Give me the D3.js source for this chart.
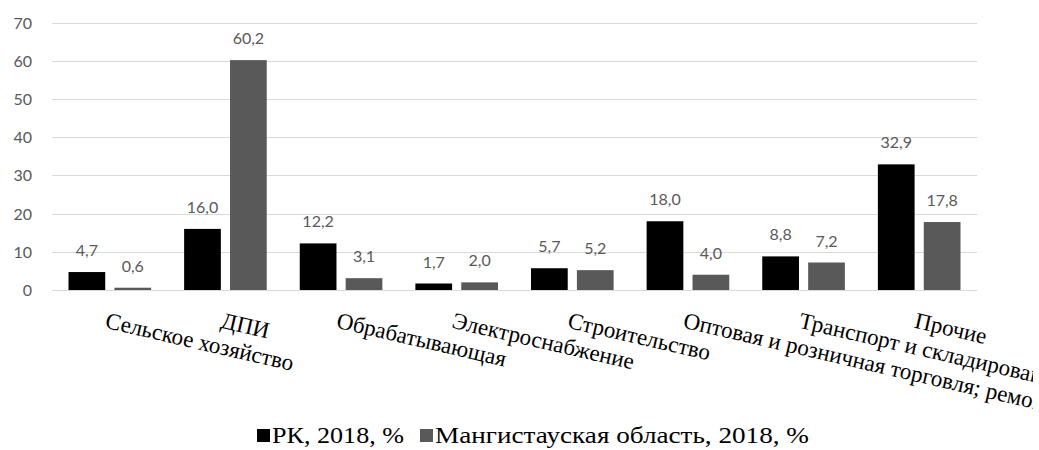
<!DOCTYPE html>
<html>
<head>
<meta charset="utf-8">
<script src="https://cdn.jsdelivr.net/npm/d3@7"></script>
<style>
  body { margin: 0; background: #fff; }
  svg { display: block; }
</style>
</head>
<body>
<div class="chart"></div>
<script>
const categories = ["Сельское хозяйство", "ДПИ", "Обрабатывающая", "Электроснабжение",
  "Строительство", "Оптовая и розничная торговля; ремонт автомобилей и мотоциклов",
  "Транспорт и складирование", "Прочие"];
const seriesNames = ["РК, 2018, %", "Мангистауская область, 2018, %"];
const rk = [4.7, 16.0, 12.2, 1.7, 5.7, 18.0, 8.8, 32.9];
const mang = [0.6, 60.2, 3.1, 2.0, 5.2, 4.0, 7.2, 17.8];
const yTicks = [0, 10, 20, 30, 40, 50, 60, 70];
const colors = ["#000000", "#595959"];

const W = 1039, H = 450;
const plot = { left: 52, right: 977, top: 22.7, bottom: 290 };

const svg = d3.select(".chart").append("svg")
    .attr("width", W).attr("height", H);

// the chart area ends a few pixels before the page edge; long labels are cut there
svg.append("defs").append("clipPath").attr("id", "area")
  .append("rect").attr("x", 0).attr("y", 0).attr("width", 1033).attr("height", H);

const x = d3.scaleBand().domain(categories).range([plot.left, plot.right]);
const xs = d3.scaleBand().domain([0, 1]).range([16.5, x.bandwidth() - 16.5]).paddingInner(0.2);
const y = d3.scaleLinear().domain([0, 70]).range([plot.bottom, plot.top]);

// gridlines
svg.append("g")
    .selectAll("line")
    .data(yTicks)
    .enter()
    .append("line")
    .attr("x1", plot.left).attr("x2", plot.right)
    .attr("y1", d => Math.round(y(d)) + 0.5).attr("y2", d => Math.round(y(d)) + 0.5)
    .attr("stroke", "#d9d9d9").attr("stroke-width", 1);

// y tick labels
svg.append("g")
    .selectAll("text")
    .data(yTicks)
    .enter()
    .append("text")
    .attr("x", 32)
    .attr("y", d => y(d) + 6)
    .attr("text-anchor", "end")
    .attr("font-family", "Lato, 'Open Sans', sans-serif")
    .attr("font-size", "16px")
    .attr("fill", "#595959")
    .text(d => d);

const rows = categories.map((c, i) => ({ c, vals: [rk[i], mang[i]] }));

const groups = svg.append("g")
    .selectAll("g")
    .data(rows)
    .enter()
    .append("g")
    .attr("transform", d => `translate(${x(d.c)},0)`);

groups.selectAll("rect")
    .data(d => d.vals)
    .enter()
    .append("rect")
    .attr("x", (d, i) => xs(i))
    .attr("y", d => y(d))
    .attr("width", xs.bandwidth())
    .attr("height", d => y(0) - y(d))
    .attr("fill", (d, i) => colors[i]);

groups.selectAll("text")
    .data(d => d.vals)
    .enter()
    .append("text")
    .attr("x", (d, i) => xs(i) + xs.bandwidth() / 2)
    .attr("y", d => y(d) - 16)
    .attr("text-anchor", "middle")
    .attr("font-family", "Lato, 'Open Sans', sans-serif")
    .attr("font-size", "16px")
    .attr("fill", "#595959")
    .text(d => d.toFixed(1).replace(".", ","));

// rotated category labels
svg.append("g")
    .attr("clip-path", "url(#area)")
    .selectAll("text")
    .data(categories)
    .enter()
    .append("text")
    .attr("transform", d => `translate(${x(d) + x.bandwidth() / 2 - 2},${plot.bottom + 22}) rotate(13)`)
    .attr("y", 16)
    .attr("font-family", "'Liberation Serif', 'Times New Roman', serif")
    .attr("font-size", "23px")
    .attr("fill", "#000")
    .text(d => d);

// legend
const legend = svg.append("g").attr("transform", "translate(257,443)");
const lx = [0, 163];
const lw = [132, 374];
seriesNames.forEach((s, i) => {
  legend.append("rect")
      .attr("x", lx[i]).attr("y", -14)
      .attr("width", 13).attr("height", 13)
      .attr("fill", colors[i]);
  legend.append("text")
      .attr("x", lx[i] + 15).attr("y", 0)
      .attr("font-family", "'Liberation Serif', 'Times New Roman', serif")
      .attr("font-size", "23px")
      .attr("textLength", lw[i])
      .attr("lengthAdjust", "spacingAndGlyphs")
      .attr("fill", "#000")
      .text(s);
});
</script>
</body>
</html>
